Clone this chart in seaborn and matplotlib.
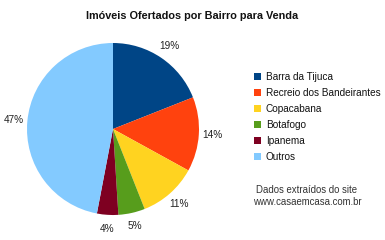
import matplotlib
matplotlib.use("Agg")
import matplotlib.pyplot as plt
import seaborn as sns

categories = ["Barra da Tijuca", "Recreio dos Bandeirantes", "Copacabana",
              "Botafogo", "Ipanema", "Outros"]
values = [19, 14, 11, 5, 4, 47]
colors = ["#004586", "#ff420e", "#ffd320", "#579d1c", "#7e0021", "#83caff"]
title = "Imóveis Ofertados por Bairro para Venda"
note = "Dados extraídos do site\nwww.casaemcasa.com.br"

sns.set_theme(style="white")
plt.rcParams["font.family"] = ["Liberation Sans", "DejaVu Sans"]
palette = sns.color_palette(colors)

W, H = 385, 240
fig = plt.figure(figsize=(W / 100, H / 100), dpi=100)
cx, cy, r = 113, 129, 86
ax = fig.add_axes([(cx - r) / W, (H - cy - r) / H, 2 * r / W, 2 * r / H])

wedges, texts, autotexts = ax.pie(
    values, colors=palette, startangle=90, counterclock=False,
    autopct=lambda p: f"{p:.0f}%", pctdistance=1.16, radius=1,
    wedgeprops=dict(linewidth=0),
    textprops=dict(fontsize=7.2, color="#222222"))
ax.set_xlim(-1, 1)
ax.set_ylim(-1, 1)
ax.set_aspect("auto")

fig.text(192 / W, 1 - 16 / H, title, ha="center", va="center",
         fontsize=7.8, fontweight="bold", color="#111111")

leg = fig.legend(wedges, categories, loc="upper left",
                 bbox_to_anchor=(250 / W, 1 - 68 / H), frameon=False,
                 fontsize=7.2, handlelength=0.7, handleheight=0.7,
                 handletextpad=0.5, labelspacing=0.6, borderaxespad=0)
for t in leg.get_texts():
    t.set_color("#111111")

fig.text(307 / W, 1 - 196 / H, note, ha="center", va="center",
         fontsize=6.9, color="#333333", linespacing=1.3)

fig.savefig("out.png", dpi=100, facecolor="white")
